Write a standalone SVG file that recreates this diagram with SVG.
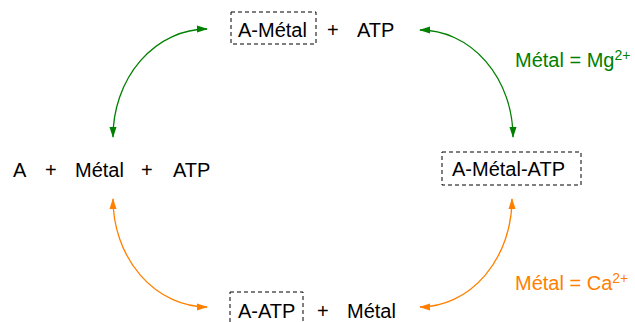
<svg xmlns="http://www.w3.org/2000/svg" width="635" height="322" viewBox="0 0 635 322">
<style>
text{font-family:"Liberation Sans",Arial,sans-serif;font-size:20px;fill:#000}
.box{fill:none;stroke:#000;stroke-width:1;stroke-dasharray:4,3}
.g{fill:none;stroke:#008000;stroke-width:1.3}
.o{fill:none;stroke:#ff8000;stroke-width:1.3}
text.gt{fill:#008000}
text.ot{fill:#ff8000}
.sup{font-size:14px}
</style>
<defs>
<marker id="ag" markerUnits="userSpaceOnUse" markerWidth="11" markerHeight="8" viewBox="0 0 11 8" refX="10" refY="4" orient="auto-start-reverse"><path d="M0,0.5 L11,4 L0,7.5 z" fill="#008000"/></marker>
<marker id="ao" markerUnits="userSpaceOnUse" markerWidth="11" markerHeight="8" viewBox="0 0 11 8" refX="10" refY="4" orient="auto-start-reverse"><path d="M0,0.5 L11,4 L0,7.5 z" fill="#ff8000"/></marker>
</defs>
<g id="connectors">
<path class="g" d="M113,137 A94 108 0 0 1 207,29" marker-start="url(#ag)" marker-end="url(#ag)"/>
<path class="g" d="M420,30 A93 107 0 0 1 513,137" marker-start="url(#ag)" marker-end="url(#ag)"/>
<path class="o" d="M512,199 A92 108 0 0 1 420,307" marker-start="url(#ao)" marker-end="url(#ao)"/>
<path class="o" d="M207,307 A94 108 0 0 1 113,199" marker-start="url(#ao)" marker-end="url(#ao)"/>
</g>
<g id="top">
<rect class="box" x="231" y="12" width="85" height="32"/>
<text x="238" y="37">A-Métal</text>
<text x="327" y="37">+</text>
<text x="357" y="37">ATP</text>
</g>
<g id="left">
<text x="13" y="177">A</text>
<text x="45" y="177">+</text>
<text x="75" y="177">Métal</text>
<text x="141" y="177">+</text>
<text x="173" y="177">ATP</text>
</g>
<g id="right">
<rect class="box" x="442" y="152" width="139" height="33"/>
<text x="452" y="176">A-Métal-ATP</text>
</g>
<g id="bottom">
<rect class="box" x="230" y="292" width="73" height="33"/>
<text x="238" y="318">A-ATP</text>
<text x="317" y="318">+</text>
<text x="347" y="318">Métal</text>
</g>
<g id="label-mg">
<text class="gt" x="515" y="67">Métal = Mg<tspan class="sup" dy="-7">2+</tspan></text>
</g>
<g id="label-ca">
<text class="ot" x="515" y="290">Métal = Ca<tspan class="sup" dy="-7">2+</tspan></text>
</g>
</svg>
